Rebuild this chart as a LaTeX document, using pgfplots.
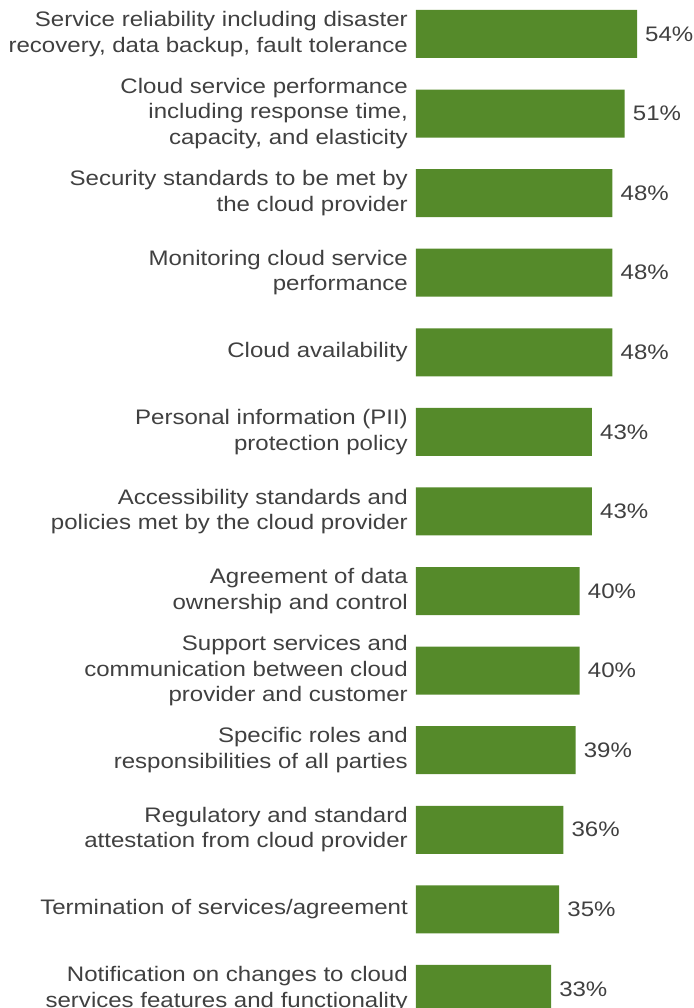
\documentclass[border=0pt]{standalone}
\usepackage{pgfplots}
\pgfplotsset{compat=1.18}
\usepackage{fontspec}
\setmainfont[FakeStretch=1.145]{Liberation Sans}
\definecolor{bargreen}{HTML}{558A2A}
\definecolor{txt}{HTML}{404040}
\begin{document}
\begin{tikzpicture}
\begin{axis}[
  xbar,
  scale only axis,
  width=277pt, height=1008pt,
  xmin=0, xmax=67.68,
  ymin=-0.427, ymax=12.24,
  y dir=reverse,
  bar width=48pt,
  axis line style={draw=none},
  tick style={draw=none},
  major tick length=0pt,
  xtick=\empty,
  clip=false,
  /pgf/number format/assume math mode=true,
  ytick={0,...,12},
  yticklabels={
    {Service reliability including disaster\\recovery, data backup, fault tolerance},
    {Cloud service performance\\including response time,\\capacity, and elasticity},
    {Security standards to be met by\\the cloud provider},
    {Monitoring cloud service\\performance},
    {Cloud availability},
    {Personal information (PII)\\protection policy},
    {Accessibility standards and\\policies met by the cloud provider},
    {Agreement of data\\ownership and control},
    {Support services and\\communication between cloud\\provider and customer},
    {Specific roles and\\responsibilities of all parties},
    {Regulatory and standard\\attestation from cloud provider},
    {Termination of services/agreement},
    {Notification on changes to cloud\\services features and functionality}
  },
  yticklabel style={align=right, font=\fontsize{21}{25.5}\selectfont, text=txt, inner sep=0pt, xshift=-8pt},
  nodes near coords={\pgfmathprintnumber{\pgfplotspointmeta}\%},
  nodes near coords style={font=\fontsize{21}{25}\selectfont, text=txt, inner sep=0pt, xshift=8pt, anchor=west},
]
\addplot[fill=bargreen, draw=none] coordinates {
  (54,0) (51,1) (48,2) (48,3) (48,4) (43,5) (43,6)
  (40,7) (40,8) (39,9) (36,10) (35,11) (33,12)
};
\end{axis}
\pgfresetboundingbox
\path (current axis.south west) ++(-416pt,0pt) rectangle (current axis.north east);
\end{tikzpicture}
\end{document}
